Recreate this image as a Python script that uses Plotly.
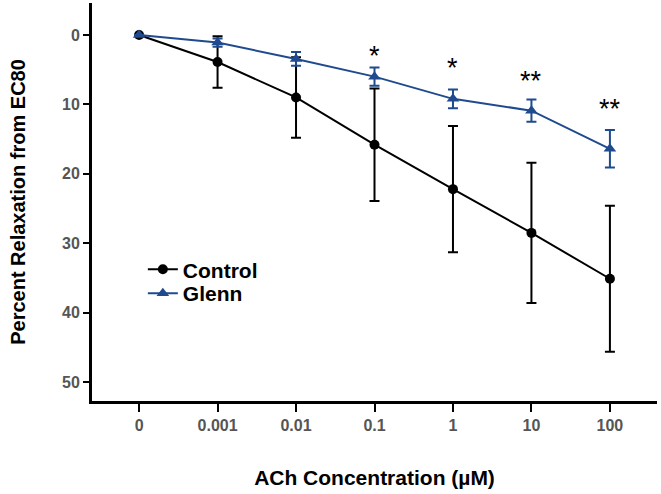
import plotly.graph_objects as go

categories = ["0", "0.001", "0.01", "0.1", "1", "10", "100"]
control_mean = [0, 3.9, 9.0, 15.8, 22.2, 28.5, 35.1]
control_err = [0, 3.7, 5.8, 8.1, 9.1, 10.1, 10.5]
glenn_mean = [0, 1.1, 3.45, 6.0, 9.2, 10.9, 16.4]
glenn_err = [0, 0.6, 1.0, 1.3, 1.35, 1.6, 2.7]
sig_labels = ["", "", "", "*", "*", "**", "**"]
sig_y = [None, None, None, 3.1, 4.7, 6.7, 10.7]

xs = list(range(len(categories)))
blue = "#1f4b8e"

fig = go.Figure()
fig.add_trace(go.Scatter(
    x=xs, y=control_mean, name="Control", mode="lines+markers",
    line=dict(color="black", width=2),
    marker=dict(symbol="circle", size=10, color="black"),
    error_y=dict(type="data", array=control_err, color="black", thickness=2, width=5),
    legend="legend",
))
fig.add_trace(go.Scatter(
    x=xs, y=glenn_mean, name="Glenn", mode="lines+markers",
    line=dict(color=blue, width=2),
    marker=dict(symbol="triangle-up", size=11, color=blue),
    error_y=dict(type="data", array=glenn_err, color=blue, thickness=2, width=5),
    legend="legend2",
))

for xi, lab, yy in zip(xs, sig_labels, sig_y):
    if lab:
        fig.add_annotation(x=xi, y=yy, text=lab, showarrow=False,
                           font=dict(family="Liberation Sans, Arial", size=27, color="black"),
                           xanchor="center", yanchor="middle")

legend_font = dict(family="Liberation Sans, Arial", size=21, color="black", weight="bold")
fig.update_layout(
    width=661, height=494,
    margin=dict(l=92, r=4, t=3, b=93),
    paper_bgcolor="white", plot_bgcolor="white",
    showlegend=True,
    legend=dict(x=0.09, y=0.33, xanchor="left", yanchor="middle",
                font=legend_font, bgcolor="rgba(0,0,0,0)", itemwidth=30),
    legend2=dict(x=0.09, y=0.27, xanchor="left", yanchor="middle",
                 font=legend_font, bgcolor="rgba(0,0,0,0)", itemwidth=30),
    font=dict(family="Liberation Sans, Arial"),
)
fig.update_xaxes(
    range=[-0.6, 6.6], tickmode="array", tickvals=xs, ticktext=categories,
    showline=True, linecolor="black", linewidth=3, ticks="outside", ticklen=8,
    tickwidth=2, tickcolor="black", showgrid=False, zeroline=False,
    tickfont=dict(size=16, color="#555555", weight="bold"),
    title=dict(text="ACh Concentration (µM)", standoff=38,
               font=dict(size=21, color="black", weight="bold")),
)
fig.update_yaxes(
    range=[52.7, -4.6], tickvals=[0, 10, 20, 30, 40, 50],
    showline=True, linecolor="black", linewidth=3, ticks="outside", ticklen=6,
    tickwidth=2, tickcolor="black", showgrid=False, zeroline=False,
    tickfont=dict(size=16, color="#555555", weight="bold"),
    title=dict(text="Percent Relaxation from EC80", standoff=32,
               font=dict(size=20, color="black", weight="bold")),
)

fig.write_html("out.html")
